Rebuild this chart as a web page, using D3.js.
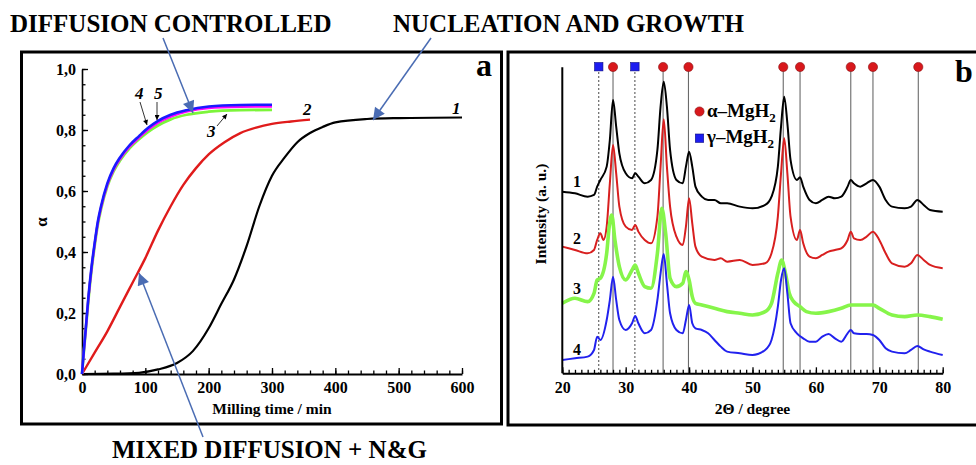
<!DOCTYPE html>
<html>
<head>
<meta charset="utf-8">
<script src="https://cdn.jsdelivr.net/npm/d3@7"></script>
<style>
body { margin: 0; background: #fff; }
svg { display: block; }
text { font-family: "Liberation Serif", "Times New Roman", serif; font-weight: bold; }
</style>
</head>
<body>
<div id="chart"></div>
<script>
// ---- panel a: conversion degree alpha vs milling time ----
var time1 = [0, 50, 90, 120, 150, 175, 200, 220, 240, 260, 280, 300, 320, 340, 360, 380, 400, 450, 500, 600];
var alpha1 = [0, 0.001, 0.004, 0.015, 0.036, 0.075, 0.15, 0.23, 0.31, 0.42, 0.55, 0.65, 0.71, 0.76, 0.79, 0.81, 0.825, 0.836, 0.839, 0.841];
var time2 = [0, 20, 40, 60, 80, 100, 120, 140, 160, 180, 200, 225, 250, 275, 300, 330, 360];
var alpha2 = [0, 0.07, 0.14, 0.22, 0.3, 0.38, 0.47, 0.55, 0.62, 0.675, 0.72, 0.76, 0.79, 0.808, 0.82, 0.828, 0.834];
var timeFast = [0, 3, 6, 10, 15, 20, 25, 30, 40, 50, 60, 75, 90, 105, 120, 140, 165, 200, 250, 300];
var alpha3 = [0, 0.075, 0.145, 0.24, 0.34, 0.42, 0.49, 0.54, 0.615, 0.665, 0.70, 0.74, 0.77, 0.795, 0.815, 0.835, 0.85, 0.86, 0.865, 0.866];
var alpha4 = [0, 0.08, 0.15, 0.25, 0.35, 0.43, 0.50, 0.55, 0.625, 0.675, 0.71, 0.75, 0.78, 0.808, 0.83, 0.85, 0.865, 0.877, 0.882, 0.883];
var alpha5 = [0, 0.078, 0.148, 0.245, 0.345, 0.425, 0.495, 0.545, 0.62, 0.67, 0.705, 0.745, 0.775, 0.802, 0.824, 0.844, 0.86, 0.872, 0.876, 0.877];
var timeTicks = [0, 100, 200, 300, 400, 500, 600];
var alphaTicks = [0, 0.2, 0.4, 0.6, 0.8, 1.0];

// ---- panel b: XRD patterns (intensity in a. u., offset as plotted) ----
var angles1 = [20,22,24,25,25.5,26,27,27.5,28,28.5,29,30,31,31.5,32,33,34,35,35.5,36,36.5,37,38,39,39.5,40,40.5,41,42,43,44,45,46,48,50,52,53,54,54.5,55,55.5,56,57,57.5,58,59,60,61,62,63,64,65,65.5,66,67,68,69,70,71,72,74,75,76,77,78,80];
var int1 = [545,540,530,535,560,580,620,700,820,740,660,600,585,600,590,570,580,670,800,875,800,670,580,570,620,665,620,560,530,520,520,510,510,500,495,505,530,620,740,830,750,640,580,588,560,520,510,520,530,525,530,560,580,570,560,570,580,560,520,500,495,500,520,505,490,485];
var angles2 = [20,22,24,25,25.5,26,26.5,27,27.5,28,28.5,29,30,31,31.5,32,33,34,35,35.5,36,36.5,37,38,39,39.5,40,40.5,41,42,44,45,46,48,50,52,53,54,54.5,55,55.5,56,57,57.5,58,59,60,61,62,63,64,65,65.5,66,67,68,69,70,71,72,74,75,76,77,78,80];
var int2 = [380,370,360,370,400,420,400,440,570,685,600,500,440,430,445,425,400,390,470,620,762,620,500,410,385,440,525,450,380,350,340,345,335,340,325,330,360,470,600,705,600,470,400,430,390,350,345,355,365,370,375,400,425,405,400,410,425,400,360,330,320,330,355,340,325,315];
var angles3 = [20,22,24,25,25.5,26,27,27.4,27.8,28.3,29,30,31,31.5,32,33,34,35,35.7,36.3,37,38,39,39.5,40,40.5,41,42,44,46,48,50,52,53,54,54.6,55.2,55.8,56.5,57.5,58.5,60,62,64,65.5,67,69,70,72,74,76,78,80];
var int3 = [210,225,215,240,280,285,360,440,475,400,320,280,310,325,300,260,255,360,495,420,285,260,270,305,280,230,210,205,195,185,180,175,185,210,300,340,300,240,215,200,185,180,185,195,205,205,205,195,175,170,175,170,162];
var angles4 = [20,22,24,25,25.5,26,27,27.5,28,28.5,29,30,31,31.5,32,33,34,35,35.5,36,36.5,37,38,39,39.5,40,40.5,41,42,43,44,45,46,48,50,52,53,54,54.5,55,55.5,56,57,58,59,60,61,62,63,64,65,65.5,66,67,68,69,70,71,72,74,75,76,77,78,80];
var int4 = [40,45,50,70,110,100,160,220,290,220,160,130,150,172,150,120,130,220,300,358,270,180,130,120,160,205,150,135,130,120,100,80,65,60,55,70,100,200,280,315,240,150,120,105,95,95,110,118,105,95,120,130,120,118,118,115,100,75,65,60,70,82,72,65,55];
var alphaPeaks = [28.0, 35.9, 39.9, 54.85, 57.5, 65.5, 69.0, 76.15];
var gammaPeaks = [25.75, 31.45];
var angleTicks = [20, 30, 40, 50, 60, 70, 80];

var width = 976, height = 465;

var svg = d3.select("#chart")
    .append("svg")
    .attr("width", width)
    .attr("height", height);

svg.append("rect").attr("width", width).attr("height", height).attr("fill", "#fff");

var defs = svg.append("defs");
defs.append("marker")
    .attr("id", "blueHead")
    .attr("viewBox", "0 0 10 10")
    .attr("refX", 10).attr("refY", 5)
    .attr("markerUnits", "userSpaceOnUse")
    .attr("markerWidth", 14).attr("markerHeight", 12)
    .attr("orient", "auto")
    .append("path").attr("d", "M0,0L10,5L0,10z").attr("fill", "#4a6cb3");
defs.append("marker")
    .attr("id", "blackHead")
    .attr("viewBox", "0 0 10 10")
    .attr("refX", 10).attr("refY", 5)
    .attr("markerUnits", "userSpaceOnUse")
    .attr("markerWidth", 6).attr("markerHeight", 5)
    .attr("orient", "auto")
    .append("path").attr("d", "M0,0L10,5L0,10z").attr("fill", "#000");

var commaFmt = d3.formatLocale({decimal: ",", thousands: ".", grouping: [3], currency: ["", ""]}).format(".1f");

function styleAxis(g, size) {
    g.selectAll("text")
        .attr("font-family", "'Liberation Serif', serif")
        .attr("font-weight", "bold")
        .attr("font-size", size)
        .attr("fill", "#000");
    g.selectAll("line").attr("stroke", "#000").attr("stroke-width", 1.3);
}

// ================= panel a =================
svg.append("rect")
    .attr("x", 21.5).attr("y", 52).attr("width", 480).attr("height", 372)
    .attr("fill", "none").attr("stroke", "#000").attr("stroke-width", 3);

var xA = d3.scaleLinear().domain([0, 600]).range([82, 462]);
var yA = d3.scaleLinear().domain([0, 1]).range([374, 69]);

// minor ticks
svg.append("g").attr("transform", "translate(0,374)")
    .call(d3.axisBottom(xA).tickValues(d3.range(0, 601, 20)).tickSizeInner(-3.5).tickSizeOuter(0).tickFormat(""))
    .call(g => g.select(".domain").remove())
    .call(g => styleAxis(g, 16));
svg.append("g").attr("transform", "translate(82,0)")
    .call(d3.axisLeft(yA).tickValues(d3.range(0, 1.001, 0.05)).tickSizeInner(-3.5).tickSizeOuter(0).tickFormat(""))
    .call(g => g.select(".domain").remove())
    .call(g => styleAxis(g, 16));

var xAxisA = svg.append("g").attr("transform", "translate(0,374)")
    .call(d3.axisBottom(xA).tickValues(timeTicks).tickSizeInner(-6).tickSizeOuter(0).tickPadding(8));
xAxisA.select(".domain").attr("stroke-width", 2);
styleAxis(xAxisA, 16);

var yAxisA = svg.append("g").attr("transform", "translate(82,0)")
    .call(d3.axisLeft(yA).tickValues(alphaTicks).tickSizeInner(-6).tickSizeOuter(0).tickPadding(6).tickFormat(commaFmt));
yAxisA.select(".domain").attr("stroke-width", 1.6);
styleAxis(yAxisA, 16);

svg.append("text")
    .attr("x", xA(300)).attr("y", 414)
    .attr("text-anchor", "middle")
    .attr("font-size", 15.5)
    .text("Milling time / min");

svg.append("text")
    .attr("transform", "translate(47,222)rotate(-90)")
    .attr("text-anchor", "middle")
    .attr("font-size", 17)
    .attr("font-weight", "normal")
    .text("α");

svg.append("text")
    .attr("x", 476).attr("y", 76)
    .attr("font-family", "'Liberation Sans', Arial, sans-serif")
    .attr("font-size", 32)
    .text("a");

var kinLine = d3.line()
    .x(d => xA(d[0]))
    .y(d => yA(d[1]))
    .curve(d3.curveMonotoneX);

var kinetics = [
    {time: time1, alpha: alpha1, color: "#000", w: 2.2},
    {time: time2, alpha: alpha2, color: "#e01b1b", w: 2.4},
    {time: timeFast, alpha: alpha3, color: "#7cf53a", w: 2.8},
    {time: timeFast, alpha: alpha5, color: "#ff00ff", w: 2.4},
    {time: timeFast, alpha: alpha4, color: "#1a1aff", w: 2.6}
];

svg.append("g")
    .selectAll("path")
    .data(kinetics)
    .enter()
    .append("path")
    .attr("d", d => kinLine(d.time.map((t, i) => [t, d.alpha[i]])))
    .attr("fill", "none")
    .attr("stroke", d => d.color)
    .attr("stroke-width", d => d.w);

// curve numbers
var kinLabels = [
    {t: "1", x: 452, y: 114},
    {t: "2", x: 303, y: 115},
    {t: "3", x: 207, y: 137},
    {t: "4", x: 135, y: 99},
    {t: "5", x: 154, y: 99}
];
svg.append("g")
    .selectAll("text")
    .data(kinLabels)
    .enter()
    .append("text")
    .attr("x", d => d.x).attr("y", d => d.y)
    .attr("font-size", 17)
    .attr("font-style", "italic")
    .text(d => d.t);

var smallArrows = [[140, 102, 147, 125], [157, 102, 157, 120], [217, 126, 227, 114]];
svg.append("g")
    .selectAll("line")
    .data(smallArrows)
    .enter()
    .append("line")
    .attr("x1", d => d[0]).attr("y1", d => d[1])
    .attr("x2", d => d[2]).attr("y2", d => d[3])
    .attr("stroke", "#000").attr("stroke-width", 0.8)
    .attr("marker-end", "url(#blackHead)");

// ================= panel b =================
svg.append("rect")
    .attr("x", 508).attr("y", 52).attr("width", 480).attr("height", 373)
    .attr("fill", "none").attr("stroke", "#000").attr("stroke-width", 3);

var xB = d3.scaleLinear().domain([20, 80]).range([562.3, 942.7]);
var yB = d3.scaleLinear().domain([0, 918]).range([373.3, 67.3]);

// reference lines for the phases
svg.append("g")
    .selectAll("line")
    .data(alphaPeaks)
    .enter()
    .append("line")
    .attr("x1", d => xB(d)).attr("x2", d => xB(d))
    .attr("y1", 67).attr("y2", 373)
    .attr("stroke", "#6a6a6a").attr("stroke-width", 1.1);
svg.append("g")
    .selectAll("line")
    .data(gammaPeaks)
    .enter()
    .append("line")
    .attr("x1", d => xB(d)).attr("x2", d => xB(d))
    .attr("y1", 72).attr("y2", 373)
    .attr("stroke", "#333").attr("stroke-width", 0.9)
    .attr("stroke-dasharray", "2,2");

var xrdLine = d3.line()
    .x(d => xB(d[0]))
    .y(d => yB(d[1]))
    .curve(d3.curveMonotoneX);

var patterns = [
    {a: angles1, v: int1, color: "#000", w: 2},
    {a: angles2, v: int2, color: "#d81f1f", w: 2},
    {a: angles3, v: int3, color: "#86f54a", w: 3.6},
    {a: angles4, v: int4, color: "#2121ee", w: 2}
];

svg.append("g")
    .selectAll("path")
    .data(patterns)
    .enter()
    .append("path")
    .attr("d", d => xrdLine(d.a.map((a, i) => [a, d.v[i]])))
    .attr("fill", "none")
    .attr("stroke", d => d.color)
    .attr("stroke-width", d => d.w)
    .attr("stroke-linejoin", "round");

// phase markers at the top
svg.append("g")
    .selectAll("circle")
    .data(alphaPeaks)
    .enter()
    .append("circle")
    .attr("cx", d => xB(d)).attr("cy", 67)
    .attr("r", 4.6)
    .attr("fill", "#d8181c").attr("stroke", "#8a0f10").attr("stroke-width", 0.6);
svg.append("g")
    .selectAll("rect")
    .data(gammaPeaks)
    .enter()
    .append("rect")
    .attr("x", d => xB(d) - 4.2).attr("y", 62.5)
    .attr("width", 8.4).attr("height", 8.4)
    .attr("fill", "#1c1cf0").attr("stroke", "#0c0c80").attr("stroke-width", 0.6);

svg.append("g").attr("transform", "translate(0,373.3)")
    .call(d3.axisBottom(xB).tickValues(d3.range(20, 80.1, 1)).tickSizeInner(-3.5).tickSizeOuter(0).tickFormat(""))
    .call(g => g.select(".domain").remove())
    .call(g => styleAxis(g, 16));

var xAxisB = svg.append("g").attr("transform", "translate(0,373.3)")
    .call(d3.axisBottom(xB).tickValues(angleTicks).tickSizeInner(-6).tickSizeOuter(0).tickPadding(8));
xAxisB.select(".domain").attr("stroke-width", 2);
styleAxis(xAxisB, 16);

svg.append("line")
    .attr("x1", xB(20)).attr("x2", xB(20))
    .attr("y1", yB(918)).attr("y2", yB(0))
    .attr("stroke", "#000").attr("stroke-width", 2);

svg.append("text")
    .attr("x", xB(50)).attr("y", 414)
    .attr("text-anchor", "middle")
    .attr("font-size", 15.5)
    .text("2Θ / degree");

svg.append("text")
    .attr("transform", "translate(546,214)rotate(-90)")
    .attr("text-anchor", "middle")
    .attr("font-size", 15.5)
    .text("Intensity (a. u.)");

svg.append("text")
    .attr("x", 955).attr("y", 82)
    .attr("font-family", "'Liberation Sans', Arial, sans-serif")
    .attr("font-size", 32)
    .text("b");

var patLabels = [
    {t: "1", y: 187},
    {t: "2", y: 244},
    {t: "3", y: 294},
    {t: "4", y: 355}
];
svg.append("g")
    .selectAll("text")
    .data(patLabels)
    .enter()
    .append("text")
    .attr("x", 573).attr("y", d => d.y)
    .attr("font-size", 16)
    .text(d => d.t);

// legend
var legend = svg.append("g");
legend.append("circle").attr("cx", 699.5).attr("cy", 111.5).attr("r", 4.6)
    .attr("fill", "#d8181c").attr("stroke", "#8a0f10").attr("stroke-width", 0.6);
legend.append("rect").attr("x", 695.3).attr("y", 134).attr("width", 8.4).attr("height", 8.4)
    .attr("fill", "#1c1cf0").attr("stroke", "#0c0c80").attr("stroke-width", 0.6);
var leg1 = legend.append("text").attr("x", 707).attr("y", 117).attr("font-size", 19);
leg1.append("tspan").text("α–MgH");
leg1.append("tspan").attr("dy", 5).attr("font-size", 13).text("2");
var leg2 = legend.append("text").attr("x", 707).attr("y", 143).attr("font-size", 19);
leg2.append("tspan").text("γ–MgH");
leg2.append("tspan").attr("dy", 5).attr("font-size", 13).text("2");

// ================= annotations =================
var notes = [
    {t: "DIFFUSION CONTROLLED", x: 10, y: 32},
    {t: "NUCLEATION AND GROWTH", x: 393, y: 32},
    {t: "MIXED DIFFUSION + N&G", x: 112, y: 458}
];
svg.append("g")
    .selectAll("text")
    .data(notes)
    .enter()
    .append("text")
    .attr("x", d => d.x).attr("y", d => d.y)
    .attr("font-size", 25)
    .text(d => d.t);

var noteArrows = [[163, 38, 193, 113], [431, 38, 373, 120], [203, 437, 139, 273]];
svg.append("g")
    .selectAll("line")
    .data(noteArrows)
    .enter()
    .append("line")
    .attr("x1", d => d[0]).attr("y1", d => d[1])
    .attr("x2", d => d[2]).attr("y2", d => d[3])
    .attr("stroke", "#4a6cb3").attr("stroke-width", 1.5)
    .attr("marker-end", "url(#blueHead)");
</script>
</body>
</html>
